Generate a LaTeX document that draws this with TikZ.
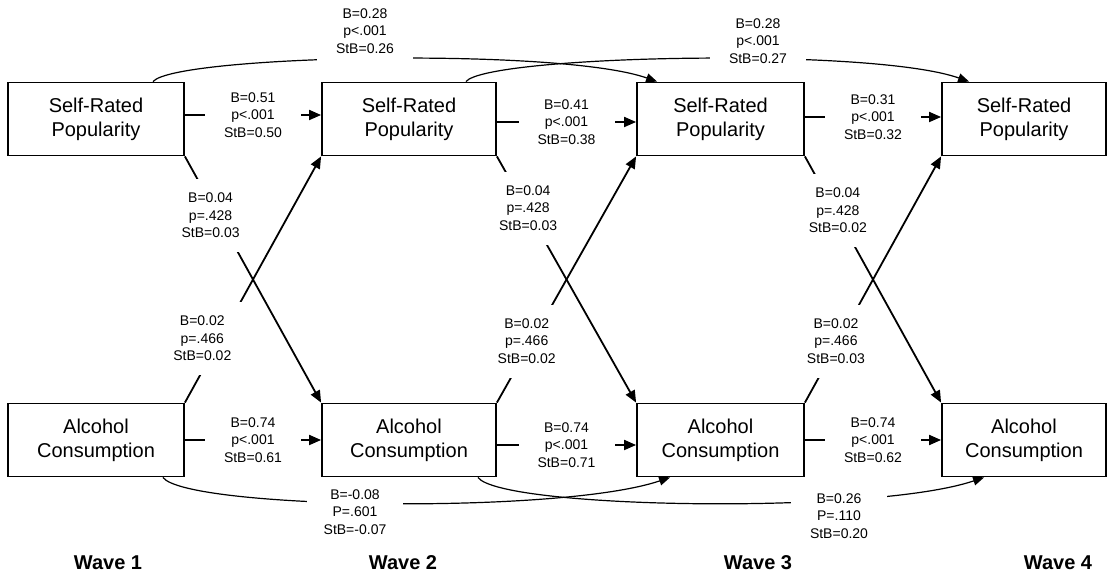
\documentclass[tikz,border=0pt]{standalone}
\usepackage{fontspec}
\setmainfont{Liberation Sans}
\usetikzlibrary{arrows.meta, positioning}

\begin{document}
\begin{tikzpicture}[x=1pt, y=1pt, node distance=313pt]
\tikzstyle{var} = [rectangle, minimum width=176pt, minimum height=73pt, text centered, align=center, draw=black, line width=1.8pt, font=\fontsize{20}{24}\selectfont]
\tikzstyle{effect} = [-{Triangle[length=12pt, width=10pt]}, line width=1.8pt]
\tikzstyle{lag} = [-{Triangle[length=11pt, width=9pt]}, line width=1.2pt]
\tikzstyle{coef} = [fill=white, align=center, inner sep=2pt, minimum width=96pt, minimum height=73pt, font=\fontsize{14}{17.5}\selectfont]
\tikzstyle{wave} = [font=\bfseries\fontsize{20}{24}\selectfont]

\useasboundingbox (0,0) rectangle (1108,580);

% popularity row
\node (srp1) [var] at (96,461) {Self-Rated\\Popularity};
\node (srp2) [var, right of=srp1, minimum width=174pt] {Self-Rated\\Popularity};
\node (srp3) [var, right of=srp2, xshift=-1.5pt, minimum width=167pt] {Self-Rated\\Popularity};
\node (srp4) [var, right of=srp3, xshift=-9.5pt, minimum width=164pt] {Self-Rated\\Popularity};

% alcohol row
\node (ac1) [var, below of=srp1, yshift=-8pt] {Alcohol\\Consumption};
\node (ac2) [var, below of=srp2, yshift=-8pt, minimum width=174pt] {Alcohol\\Consumption};
\node (ac3) [var, below of=srp3, yshift=-8pt, minimum width=167pt] {Alcohol\\Consumption};
\node (ac4) [var, below of=srp4, yshift=-8pt, minimum width=164pt] {Alcohol\\Consumption};

% stability paths
\draw [effect] ([yshift=4pt]srp1.east) -- node (srp12) [coef] {B=0.51\\p<.001\\StB=0.50} ([yshift=4pt]srp2.west);
\draw [effect] ([yshift=-3pt]srp2.east) -- node (srp23) [coef] {B=0.41\\p<.001\\StB=0.38} ([yshift=-3pt]srp3.west);
\draw [effect] ([yshift=2pt]srp3.east) -- node (srp34) [coef] {B=0.31\\p<.001\\StB=0.32} ([yshift=2pt]srp4.west);
\draw [effect] (ac1.east) -- node (ac12) [coef] {B=0.74\\p<.001\\StB=0.61} (ac2.west);
\draw [effect] ([yshift=-5pt]ac2.east) -- node (ac23) [coef] {B=0.74\\p<.001\\StB=0.71} ([yshift=-5pt]ac3.west);
\draw [effect] (ac3.east) -- node (ac34) [coef] {B=0.74\\p<.001\\StB=0.62} (ac4.west);

% cross-lagged paths
\draw [effect] (srp1.south east) -- node (srp1ac2) [coef, pos=0.24, xshift=-7pt] {B=0.04\\p=.428\\StB=0.03} (ac2.north west);
\draw [effect] (srp2.south east) -- node (srp2ac3) [coef, pos=0.21, xshift=2pt] {B=0.04\\p=.428\\StB=0.03} (ac3.north west);
\draw [effect] (srp3.south east) -- node (srp3ac4) [coef, pos=0.22, xshift=3pt] {B=0.04\\p=.428\\StB=0.02} (ac4.north west);
\draw [effect] (ac1.north east) -- node (ac1srp2) [coef, pos=0.26, xshift=-18pt] {B=0.02\\p=.466\\StB=0.02} (srp2.south west);
\draw [effect] (ac2.north east) -- node (ac2srp3) [coef, pos=0.25, xshift=-5pt] {B=0.02\\p=.466\\StB=0.02} (srp3.south west);
\draw [effect] (ac3.north east) -- node (ac3srp4) [coef, pos=0.25, xshift=-3pt] {B=0.02\\p=.466\\StB=0.03} (srp4.south west);

% lag-2 paths
\draw [lag] ([xshift=57pt]srp1.north) .. controls +(22,26.5) and +(-98,34.5) .. ([xshift=21pt]srp3.north west);
\draw [lag] ([xshift=-31pt]srp2.north east) .. controls +(22,26.5) and +(-98,34.5) .. ([xshift=28pt]srp4.north west);
\draw [lag] ([xshift=-22pt]ac1.south east) .. controls +(23,-31.5) and +(-111,-37.5) .. ([xshift=34pt]ac3.south west);
\draw [lag] ([xshift=-19pt]ac2.south east) .. controls +(23,-31.5) and +(-111,-37.5) .. ([xshift=43pt]ac4.south west);

\node (srp13) [coef] at (365,549) {B=0.28\\p<.001\\StB=0.26};
\node (srp24) [coef] at (758,539) {B=0.28\\p<.001\\StB=0.27};
\node (ac13) [coef, minimum height=0pt] at (355,68) {B=-0.08\\P=.601\\StB=-0.07};
\node (ac24) [coef, minimum height=0pt] at (839,64) {B=0.26\\P=.110\\StB=0.20};

% waves
\node (wave1) [wave] at (108,17) {Wave 1};
\node (wave2) [wave] at (403,17) {Wave 2};
\node (wave3) [wave] at (758,17) {Wave 3};
\node (wave4) [wave] at (1058,17) {Wave 4};

\end{tikzpicture}
\end{document}
